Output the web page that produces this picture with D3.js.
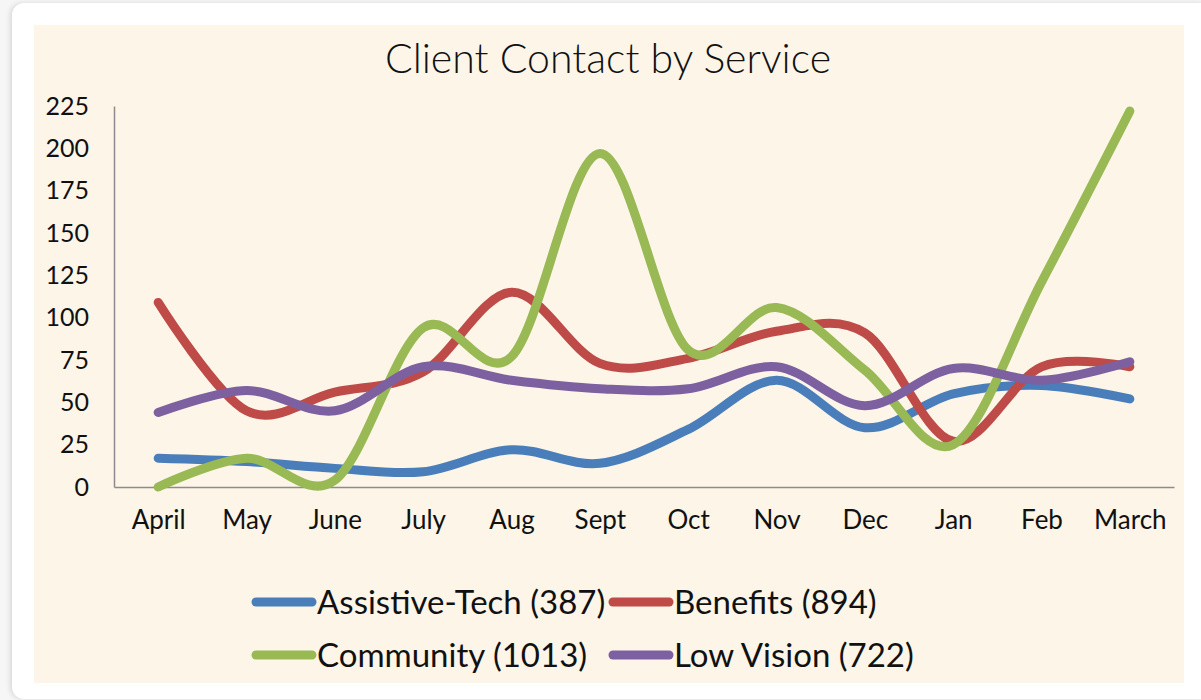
<!DOCTYPE html>
<html>
<head>
<meta charset="utf-8">
<script src="https://cdn.jsdelivr.net/npm/d3@7"></script>
<style>
  body { margin: 0; background: #f6f6f6; font-family: Lato, "Open Sans", sans-serif; }
  .card {
    position: absolute; left: 12px; top: 3px; width: 1200px; height: 696px;
    background: #fff; border-radius: 12px;
    box-shadow: -2px 0 5px rgba(0,0,0,0.12);
  }
  .chart { position: absolute; left: 0; top: 0; }
</style>
</head>
<body>
<div class="card"></div>
<div class="chart"></div>
<script>
// chart data
var months = ["April", "May", "June", "July", "Aug", "Sept", "Oct", "Nov", "Dec", "Jan", "Feb", "March"];
var assistiveTech = [17, 15, 11, 9, 22, 14, 34, 63, 35, 55, 60, 52];
var benefits = [109, 45, 56, 68, 115, 73, 76, 92, 91, 27, 71, 71];
var community = [0, 17, 4, 94, 77, 197, 81, 106, 69, 25, 121, 222];
var lowVision = [44, 57, 45, 71, 63, 58, 58, 71, 48, 70, 63, 74];
var seriesNames = ["Assistive-Tech (387)", "Benefits (894)", "Community (1013)", "Low Vision (722)"];
var yTicks = [0, 25, 50, 75, 100, 125, 150, 175, 200, 225];

var colors = ["#4a7ebb", "#be4b48", "#98b954", "#7d60a0"];
var seriesData = [assistiveTech, benefits, community, lowVision];

// svg params
var svgWidth = 1201;
var svgHeight = 700;

var plot = { left: 114, right: 1174, top: 106, bottom: 487 };

var svg = d3.select(".chart")
  .append("svg")
  .attr("width", svgWidth)
  .attr("height", svgHeight);

// cream chart area
svg.append("rect")
  .attr("x", 34)
  .attr("y", 25)
  .attr("width", 1150)
  .attr("height", 658)
  .attr("fill", "#fcf5e8");

// title
svg.append("text")
  .attr("x", 608)
  .attr("y", 73)
  .attr("text-anchor", "middle")
  .attr("font-size", 41)
  .attr("font-weight", 300)
  .attr("fill", "#111")
  .text("Client Contact by Service");

// scales
var xScale = d3.scalePoint()
  .domain(months)
  .range([plot.left, plot.right])
  .padding(0.5);

var yScale = d3.scaleLinear()
  .domain([0, 225])
  .range([plot.bottom, plot.top]);

// y axis
var yAxis = svg.append("g")
  .attr("transform", `translate(${plot.left}, 0)`)
  .call(d3.axisLeft(yScale).tickValues(yTicks).tickSize(0).tickPadding(25));

yAxis.select(".domain").attr("stroke", "#8c8c8c").attr("stroke-width", 1.5);
yAxis.selectAll("text")
  .attr("font-family", "Lato, sans-serif")
  .attr("font-size", 25)
  .attr("fill", "#111");

// x axis
var xAxis = svg.append("g")
  .attr("transform", `translate(0, ${plot.bottom})`)
  .call(d3.axisBottom(xScale).tickSize(0).tickPadding(24));

xAxis.select(".domain").attr("stroke", "#8c8c8c").attr("stroke-width", 1.5);
xAxis.selectAll("text")
  .attr("font-family", "Lato, sans-serif")
  .attr("font-size", 26)
  .attr("fill", "#111");

// smoothed lines
var line = d3.line()
  .x((d, i) => xScale(months[i]))
  .y(d => yScale(d))
  .curve(d3.curveCatmullRom.alpha(0));

svg.append("g")
  .selectAll("path")
  .data(seriesData)
  .enter()
  .append("path")
  .attr("d", d => line(d))
  .attr("fill", "none")
  .attr("stroke", (d, i) => colors[i])
  .attr("stroke-width", 9)
  .attr("stroke-linecap", "round")
  .attr("stroke-linejoin", "round");

// legend, two columns by two rows
var legendCols = [256, 613];
var legendRows = [602, 655];

var legend = svg.append("g")
  .selectAll("g")
  .data(seriesNames)
  .enter()
  .append("g")
  .attr("transform", (d, i) => `translate(${legendCols[i % 2]}, ${legendRows[Math.floor(i / 2)]})`);

legend.append("line")
  .attr("x1", 0)
  .attr("x2", 56)
  .attr("stroke", (d, i) => colors[i])
  .attr("stroke-width", 9)
  .attr("stroke-linecap", "round");

legend.append("text")
  .attr("x", 61)
  .attr("dy", "0.35em")
  .attr("font-size", 33)
  .attr("fill", "#111")
  .text(d => d);
</script>
</body>
</html>
